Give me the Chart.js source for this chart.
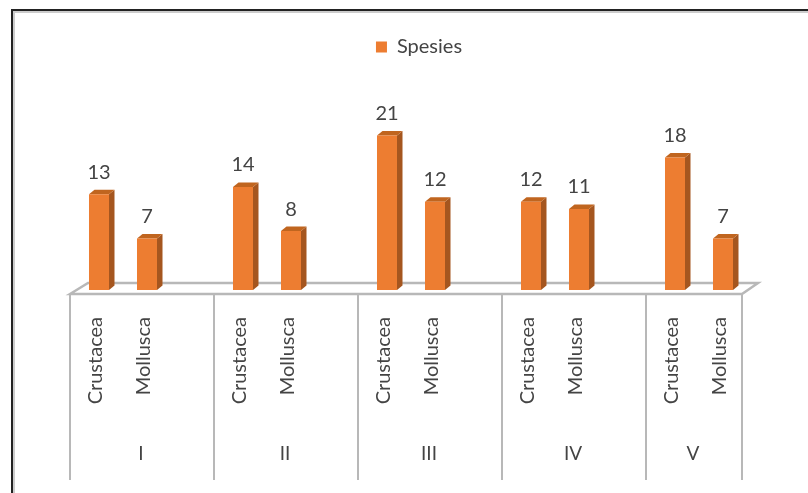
<!DOCTYPE html>
<html>
<head>
<meta charset="utf-8">
<title>Spesies</title>
<script src="https://cdn.jsdelivr.net/npm/chart.js@4"></script>
<style>
    html, body { margin: 0; padding: 0; background: #fff; }
    #wrap { position: relative; width: 808px; height: 493px; overflow: hidden; }
    #frame {
        position: absolute; left: 11px; top: 9px; width: 810px; height: 500px;
        border-left: 2px solid #222; border-top: 2px solid #222;
        box-shadow: inset 2px 2px 0 #ccc;
    }
    canvas { position: absolute; left: 0; top: 0; }
</style>
</head>
<body>
<div id="wrap">
    <canvas id="chart" width="808" height="493"></canvas>
    <div id="frame"></div>
</div>
<script>
// Blank entries leave the gap between stations
var categories = ["Crustacea", "Mollusca", "", "Crustacea", "Mollusca", "", "Crustacea", "Mollusca", "", "Crustacea", "Mollusca", "", "Crustacea", "Mollusca"];
var spesies = [13, 7, null, 14, 8, null, 21, 12, null, 12, 11, null, 18, 7];
var groups = ["I", "II", "III", "IV", "V"];
var groupStarts = [0, 3, 6, 9, 12, 14];

var textColor = "#444444";
var lineColor = "#b8b8b8";
var fontFamily = "Lato, 'Open Sans', sans-serif";

// Fake 3D: floor, bar side and top faces, separators, value labels
var depthPlugin = {
    id: "depth",
    afterLayout: function (chart) {
        // legend sits a bit right of the plot centre
        chart.legend.left += 8;
        chart.legend.right += 8;
        chart.legend.adjustHitBoxes();
    },
    beforeDatasetsDraw: function (chart) {
        var ctx = chart.ctx;
        var x = chart.scales.x;
        var base = chart.scales.y.getPixelForValue(0);
        var slot = x.getPixelForValue(1) - x.getPixelForValue(0);
        var left = x.getPixelForValue(0) - slot / 2 - 5;
        var right = x.getPixelForValue(categories.length - 1) + slot / 2 - 5;

        ctx.save();
        ctx.strokeStyle = lineColor;
        ctx.lineWidth = 2.5;
        ctx.beginPath();
        ctx.moveTo(left, base + 4);
        ctx.lineTo(left + 18, base - 7);
        ctx.lineTo(right + 16, base - 7);
        ctx.lineTo(right, base + 4);
        ctx.closePath();
        ctx.stroke();

        ctx.lineWidth = 2;
        groupStarts.forEach(function (start) {
            var px = left + start * slot;
            ctx.beginPath();
            ctx.moveTo(px, base + 4);
            ctx.lineTo(px, 480);
            ctx.stroke();
        });

        ctx.font = "19px " + fontFamily;
        ctx.fillStyle = textColor;
        ctx.textAlign = "center";
        ctx.textBaseline = "middle";
        groups.forEach(function (g, i) {
            var mid = left + (groupStarts[i] + groupStarts[i + 1]) / 2 * slot;
            ctx.fillText(g, mid - 1, 454);
        });

        var dx = 5.5, dy = 4.5;
        chart.getDatasetMeta(0).data.forEach(function (bar, i) {
            if (spesies[i] === null) return;
            var half = bar.width / 2;
            ctx.fillStyle = "#a5561f";
            ctx.beginPath();
            ctx.moveTo(bar.x + half, bar.y);
            ctx.lineTo(bar.x + half + dx, bar.y - dy);
            ctx.lineTo(bar.x + half + dx, base - dy);
            ctx.lineTo(bar.x + half, base);
            ctx.closePath();
            ctx.fill();
            ctx.fillStyle = "#c0651f";
            ctx.beginPath();
            ctx.moveTo(bar.x - half, bar.y);
            ctx.lineTo(bar.x - half + dx, bar.y - dy);
            ctx.lineTo(bar.x + half + dx, bar.y - dy);
            ctx.lineTo(bar.x + half, bar.y);
            ctx.closePath();
            ctx.fill();
        });
        ctx.restore();
    },
    afterDatasetsDraw: function (chart) {
        var ctx = chart.ctx;
        ctx.save();
        ctx.font = "20px " + fontFamily;
        ctx.fillStyle = textColor;
        ctx.textAlign = "center";
        ctx.textBaseline = "middle";
        chart.getDatasetMeta(0).data.forEach(function (bar, i) {
            if (spesies[i] === null) return;
            ctx.fillText(String(spesies[i]), bar.x, bar.y - 22);
        });
        ctx.restore();
    }
};

new Chart(document.getElementById("chart").getContext("2d"), {
    type: "bar",
    data: {
        labels: categories,
        datasets: [{
            label: "Spesies",
            data: spesies,
            backgroundColor: "#ed7d31",
            categoryPercentage: 1,
            barPercentage: 0.4167
        }]
    },
    options: {
        responsive: false,
        animation: false,
        layout: { padding: { left: 75, right: 61, top: 32, bottom: 0 } },
        plugins: {
            legend: {
                position: "top",
                labels: {
                    boxWidth: 11,
                    boxHeight: 11,
                    padding: 5,
                    color: textColor,
                    font: { family: fontFamily, size: 20 }
                }
            },
            tooltip: { enabled: false }
        },
        scales: {
            y: { display: false, min: 0, max: 30.3 },
            x: {
                afterFit: function (scale) { scale.height = 203; },
                grid: { display: false },
                border: { display: false },
                ticks: {
                    autoSkip: false,
                    minRotation: 90,
                    maxRotation: 90,
                    padding: 19,
                    labelOffset: -3,
                    color: textColor,
                    font: { family: fontFamily, size: 20 }
                }
            }
        }
    },
    plugins: [depthPlugin]
});
</script>
</body>
</html>
